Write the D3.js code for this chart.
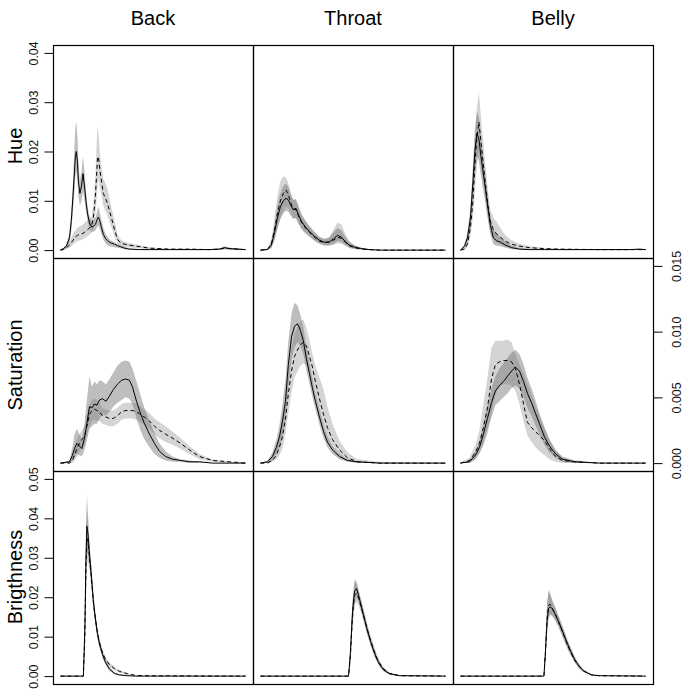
<!DOCTYPE html>
<html>
<head>
<meta charset="utf-8">
<script src="https://cdn.jsdelivr.net/npm/d3@7"></script>
<style>
  html, body { margin: 0; padding: 0; background: #fff; }
  svg { display: block; font-family: "Liberation Sans", Arial, Helvetica, sans-serif; }
</style>
</head>
<body>
<svg id="chart" width="685" height="693"></svg>
<script>
// ---------------- DATA ----------------
const columns = ["Back", "Throat", "Belly"];
const rows = ["Hue", "Saturation", "Brigthness"];
const rowMax = [0.04, 0.015, 0.05];
const hueTicks = [0, 0.01, 0.02, 0.03, 0.04];
const hueTickLabels = ["0.00", "0.01", "0.02", "0.03", "0.04"];
const satTicks = [0, 0.005, 0.010, 0.015];
const satTickLabels = ["0.000", "0.005", "0.010", "0.015"];
const briTicks = [0, 0.01, 0.02, 0.03, 0.04, 0.05];
const briTickLabels = ["0.00", "0.01", "0.02", "0.03", "0.04", "0.05"];

// Back - Hue
const backHueX = [0,1.6,3.2,4.9,5.9,6.8,7.6,8.1,8.6,9.2,9.7,10.5,11.4,12.2,13.0,13.8,14.6,15.7,16.8,17.8,18.9,19.5,20.0,20.5,21.4,22.2,23.2,24.3,25.4,26.5,27.6,29.2,30.8,32.4,34.6,37.3,42.7,48.1,58.9,69.7,80.5,86.0,88.6,91.4,100];
const backHueSolid = [0,0.0003,0.0008,0.0025,0.006,0.011,0.016,0.019,0.020,0.018,0.014,0.0115,0.013,0.0155,0.013,0.010,0.0075,0.0055,0.0047,0.0048,0.0052,0.0058,0.0064,0.0067,0.0058,0.0045,0.0032,0.0024,0.0019,0.0016,0.0014,0.0012,0.0009,0.0007,0.0004,0.0002,0.0001,0.0001,0.0001,0.0001,0.0001,0.0002,0.0005,0.0003,0.0001];
const backHueSolidHi = [0,0.0005,0.0012,0.0035,0.008,0.014,0.021,0.025,0.026,0.023,0.018,0.014,0.016,0.019,0.016,0.012,0.009,0.0068,0.006,0.006,0.0066,0.0074,0.0082,0.0088,0.0075,0.006,0.0045,0.0034,0.0027,0.0022,0.0019,0.0016,0.0013,0.001,0.0007,0.0004,0.0002,0.0002,0.0002,0.0002,0.0002,0.0004,0.0008,0.0005,0.0002];
const backHueSolidLo = [0,0.0001,0.0004,0.0015,0.004,0.008,0.012,0.015,0.016,0.014,0.011,0.009,0.010,0.012,0.010,0.008,0.006,0.0043,0.0036,0.0037,0.004,0.0044,0.0048,0.005,0.0042,0.0032,0.0021,0.0014,0.001,0.0008,0.0007,0.0006,0.0005,0.0004,0.0002,0.0001,0,0,0,0,0,0.0001,0.0002,0.0001,0];
const backHueDash = [0,0.0001,0.0005,0.001,0.0015,0.002,0.0025,0.0027,0.0028,0.003,0.0031,0.0032,0.0033,0.0034,0.0036,0.0038,0.0041,0.0045,0.005,0.0065,0.011,0.015,0.0185,0.019,0.016,0.014,0.0115,0.0105,0.0095,0.008,0.0065,0.0042,0.0022,0.0015,0.0012,0.001,0.0007,0.0004,0.0002,0.0002,0.0001,0.0002,0.0004,0.0003,0.0001];
const backHueDashHi = [0,0.0003,0.001,0.0018,0.0025,0.0032,0.0038,0.004,0.0042,0.0045,0.0047,0.0048,0.005,0.0052,0.0055,0.0058,0.006,0.0063,0.0068,0.009,0.015,0.021,0.025,0.024,0.0195,0.017,0.0145,0.0135,0.0125,0.0105,0.0085,0.006,0.0032,0.0022,0.0017,0.0014,0.001,0.0006,0.0003,0.0003,0.0002,0.0003,0.0006,0.0005,0.0002];
const backHueDashLo = [0,0,0.0002,0.0005,0.0008,0.0011,0.0014,0.0016,0.0017,0.0018,0.0019,0.002,0.0021,0.0022,0.0024,0.0026,0.0028,0.0031,0.0035,0.0045,0.0075,0.010,0.013,0.0145,0.0125,0.011,0.009,0.008,0.007,0.0058,0.0046,0.0028,0.0013,0.0009,0.0007,0.0006,0.0004,0.0002,0.0001,0.0001,0,0.0001,0.0002,0.0001,0];

// Throat - Hue
const throatHueX = [0,3.8,5.9,7.6,9.2,10.8,12.4,13.8,15.1,16.5,17.8,19.2,20.5,22.2,24.3,26.5,29.2,31.9,34.6,37.3,39.5,41.6,43.8,45.9,48.1,50.8,54.6,58.9,64.3,100];
const throatHueSolid = [0,0.0001,0.001,0.0035,0.0065,0.0088,0.010,0.0105,0.0102,0.009,0.0082,0.0085,0.0072,0.0058,0.0047,0.0038,0.0028,0.002,0.0016,0.0017,0.0023,0.003,0.0026,0.0017,0.001,0.0006,0.0003,0.0001,0,0];
const throatHueSolidHi = [0,0.0003,0.0018,0.005,0.009,0.0115,0.013,0.0135,0.0128,0.0112,0.0102,0.0104,0.009,0.0073,0.006,0.0049,0.0037,0.0027,0.0023,0.0026,0.0036,0.0045,0.004,0.0026,0.0016,0.001,0.0005,0.0002,0,0];
const throatHueSolidLo = [0,0,0.0004,0.002,0.0043,0.0063,0.0075,0.008,0.0078,0.0069,0.0063,0.0065,0.0055,0.0044,0.0035,0.0028,0.002,0.0014,0.001,0.001,0.0013,0.0018,0.0016,0.001,0.0005,0.0003,0.0001,0,0,0];
const throatHueDash = [0,0.0001,0.0012,0.004,0.0075,0.010,0.0115,0.0122,0.0112,0.0095,0.0083,0.0082,0.007,0.0056,0.0045,0.0036,0.0026,0.0018,0.0015,0.0016,0.002,0.0026,0.0024,0.0016,0.0009,0.0005,0.0002,0.0001,0,0];
const throatHueDashHi = [0,0.0003,0.0022,0.0065,0.011,0.014,0.015,0.0148,0.0135,0.0115,0.0102,0.0101,0.0088,0.0071,0.0058,0.0047,0.0035,0.0026,0.0022,0.0026,0.0042,0.0056,0.0052,0.0032,0.0018,0.001,0.0005,0.0002,0,0];
const throatHueDashLo = [0,0,0.0005,0.0022,0.0045,0.0065,0.008,0.0088,0.0085,0.0075,0.0065,0.0064,0.0054,0.0042,0.0033,0.0026,0.0018,0.0012,0.0009,0.0009,0.0011,0.0014,0.0013,0.0009,0.0004,0.0002,0.0001,0,0,0];

// Belly - Hue
const bellyHueX = [0,2.2,3.8,5.4,6.8,7.8,8.9,10.0,11.1,12.2,13.5,14.9,16.2,17.8,19.5,21.6,24.3,27.6,31.9,37.3,45.4,53.5,75.1,91.4,96.8,100];
const bellyHueSolid = [0,0.0008,0.0025,0.0065,0.014,0.020,0.0237,0.0225,0.019,0.016,0.0125,0.0085,0.005,0.0025,0.0019,0.0016,0.001,0.0005,0.0002,0.0001,0.0001,0.0001,0.0001,0.0001,0.0002,0.0001];
const bellyHueSolidHi = [0,0.0012,0.0035,0.0085,0.0175,0.0245,0.028,0.027,0.023,0.019,0.015,0.0105,0.0068,0.0042,0.0033,0.0026,0.0017,0.0009,0.0004,0.0002,0.0002,0.0002,0.0002,0.0002,0.0003,0.0002];
const bellyHueSolidLo = [0,0.0004,0.0015,0.0045,0.0105,0.0155,0.019,0.018,0.015,0.0125,0.0095,0.006,0.0032,0.0012,0.0009,0.0008,0.0005,0.0002,0.0001,0,0,0,0,0,0.0001,0];
const bellyHueDash = [0,0.0002,0.0012,0.0045,0.010,0.017,0.023,0.026,0.022,0.018,0.0135,0.009,0.0058,0.0042,0.0033,0.0026,0.0018,0.0012,0.0008,0.0005,0.0003,0.0002,0.0001,0.0001,0.0001,0.0001];
const bellyHueDashHi = [0,0.0005,0.002,0.0065,0.0135,0.0225,0.029,0.032,0.027,0.0225,0.017,0.012,0.0082,0.0065,0.0058,0.0045,0.003,0.002,0.0013,0.0008,0.0005,0.0003,0.0002,0.0002,0.0002,0.0002];
const bellyHueDashLo = [0,0,0.0006,0.0028,0.0068,0.012,0.017,0.02,0.017,0.0138,0.010,0.0062,0.0035,0.0022,0.0016,0.0012,0.0008,0.0005,0.0003,0.0002,0.0001,0,0,0,0,0];

// Back - Saturation
const backSatX = [0,4.9,6.5,7.6,8.9,10.3,11.6,13.0,14.3,15.7,17.0,18.4,19.7,21.1,22.7,24.6,26.5,28.6,30.8,33.0,35.1,37.3,38.9,41.1,43.2,45.4,48.1,50.8,53.5,56.8,60.5,64.9,69.7,75.1,82.2,91.4,100];
const backSatSolid = [0,0.0001,0.0006,0.0011,0.0015,0.0013,0.0011,0.0019,0.003,0.0043,0.0042,0.0045,0.0044,0.0048,0.0049,0.0047,0.0051,0.0056,0.006,0.0063,0.0064,0.0063,0.0058,0.0047,0.0038,0.003,0.0022,0.0015,0.0009,0.0005,0.0003,0.0002,0.0001,0.0001,0,0,0];
const backSatSolidHi = [0,0.0002,0.0012,0.0022,0.0026,0.0022,0.0018,0.003,0.0048,0.0066,0.0058,0.0062,0.006,0.0063,0.0062,0.006,0.0064,0.0069,0.0074,0.0077,0.0078,0.0077,0.0072,0.0062,0.0052,0.0042,0.0032,0.0023,0.0015,0.0009,0.0005,0.0003,0.0002,0.0001,0,0,0];
const backSatSolidLo = [0,0,0.0002,0.0004,0.0007,0.0006,0.0005,0.001,0.0018,0.0026,0.0028,0.003,0.003,0.0034,0.0037,0.0036,0.0039,0.0043,0.0046,0.0048,0.005,0.0049,0.0045,0.0034,0.0025,0.0018,0.0012,0.0007,0.0004,0.0002,0.0001,0.0001,0,0,0,0,0];
const backSatDash = [0,0,0.0002,0.0006,0.0011,0.0015,0.0018,0.002,0.0028,0.0037,0.004,0.0041,0.004,0.0039,0.0036,0.0035,0.0034,0.0034,0.0036,0.0039,0.004,0.004,0.004,0.0039,0.0037,0.0035,0.0032,0.0028,0.0025,0.0022,0.0019,0.0015,0.001,0.0005,0.0002,0.0001,0];
const backSatDashHi = [0,0.0001,0.0006,0.0012,0.0018,0.0022,0.0025,0.0028,0.0036,0.0045,0.0048,0.0049,0.0048,0.0046,0.0042,0.0041,0.004,0.004,0.0042,0.0045,0.0046,0.0046,0.0046,0.0045,0.0043,0.0041,0.0038,0.0034,0.0031,0.0028,0.0024,0.0019,0.0013,0.0007,0.0003,0.0001,0];
const backSatDashLo = [0,0,0,0.0002,0.0005,0.0009,0.0012,0.0013,0.002,0.0029,0.0032,0.0033,0.0032,0.0032,0.003,0.0029,0.0028,0.0028,0.003,0.0033,0.0034,0.0034,0.0034,0.0033,0.0031,0.0029,0.0026,0.0022,0.0019,0.0016,0.0014,0.0011,0.0007,0.0003,0.0001,0,0];

// Throat - Saturation
const throatSatX = [0,3.8,6.5,8.6,10.3,11.9,13.5,15.1,16.8,18.4,20.0,21.6,23.2,24.9,26.5,28.1,29.7,31.9,34.1,36.2,38.9,42.7,47.0,52.4,64.3,100];
const throatSatSolid = [0,0.0001,0.0005,0.0012,0.002,0.0032,0.0047,0.0075,0.0096,0.0104,0.0106,0.0101,0.0093,0.0079,0.0068,0.0057,0.0047,0.0035,0.0024,0.0016,0.001,0.0005,0.0002,0.0001,0,0];
const throatSatSolidHi = [0,0.0002,0.0008,0.0018,0.0029,0.0045,0.0063,0.0093,0.0114,0.0122,0.012,0.0113,0.0103,0.0088,0.0076,0.0064,0.0053,0.0041,0.0029,0.002,0.0013,0.0007,0.0003,0.0001,0,0];
const throatSatSolidLo = [0,0,0.0002,0.0007,0.0012,0.0021,0.0033,0.0058,0.0079,0.0088,0.0092,0.0089,0.0083,0.007,0.006,0.005,0.0041,0.0029,0.0019,0.0012,0.0007,0.0003,0.0001,0,0,0];
const throatSatDash = [0,0,0.0002,0.0006,0.0012,0.002,0.0033,0.0053,0.007,0.0081,0.0086,0.009,0.0092,0.0089,0.0081,0.0073,0.0062,0.0049,0.0037,0.0027,0.0018,0.001,0.0004,0.0001,0,0];
const throatSatDashHi = [0,0.0001,0.0005,0.0012,0.002,0.0032,0.0048,0.007,0.0088,0.0098,0.0103,0.0108,0.0109,0.0103,0.0093,0.0083,0.0074,0.0065,0.0056,0.0043,0.003,0.0017,0.0008,0.0003,0.0001,0];
const throatSatDashLo = [0,0,0.0001,0.0003,0.0006,0.0011,0.0022,0.0038,0.0054,0.0065,0.007,0.0074,0.0076,0.0074,0.0068,0.006,0.005,0.0037,0.0026,0.0018,0.0011,0.0005,0.0002,0,0,0];

// Belly - Saturation
const bellySatX = [0,4.9,8.1,10.3,12.4,14.6,16.8,18.9,21.1,23.2,25.4,27.6,29.7,31.9,34.1,36.2,38.4,40.5,42.7,45.4,48.1,51.4,55.1,61.6,75.1,100];
const bellySatSolid = [0,0.0001,0.0006,0.0012,0.0022,0.0034,0.0046,0.0055,0.0059,0.0062,0.0066,0.007,0.0073,0.007,0.0062,0.0053,0.0046,0.0038,0.003,0.002,0.0013,0.0007,0.0003,0.0001,0,0];
const bellySatSolidHi = [0,0.0002,0.0009,0.0017,0.0029,0.0043,0.0057,0.0066,0.0072,0.0076,0.008,0.0084,0.0086,0.0083,0.0075,0.0065,0.0057,0.0048,0.0038,0.0027,0.0018,0.001,0.0005,0.0002,0,0];
const bellySatSolidLo = [0,0,0.0003,0.0008,0.0015,0.0025,0.0035,0.0044,0.0047,0.005,0.0053,0.0057,0.0059,0.0057,0.005,0.0042,0.0036,0.0029,0.0022,0.0014,0.0008,0.0004,0.0001,0,0,0];
const bellySatDash = [0,0.0002,0.0008,0.0015,0.0027,0.0042,0.0064,0.0075,0.0077,0.0078,0.0078,0.0077,0.0072,0.006,0.0045,0.0031,0.0027,0.0024,0.0021,0.0017,0.0011,0.0005,0.0002,0.0001,0,0];
const bellySatDashHi = [0,0.0004,0.0014,0.0025,0.0045,0.0065,0.0088,0.0093,0.0093,0.0093,0.0094,0.0092,0.0083,0.0075,0.0068,0.006,0.0052,0.0044,0.0036,0.0027,0.0018,0.001,0.0004,0.0002,0,0];
const bellySatDashLo = [0,0,0.0003,0.0007,0.0013,0.0022,0.0038,0.0052,0.0058,0.006,0.006,0.0059,0.0055,0.0045,0.0032,0.0021,0.0016,0.0012,0.0009,0.0006,0.0003,0.0001,0,0,0,0];

// Back - Brightness
const backBriX = [0,12.4,13.2,13.8,14.3,14.9,15.7,16.8,17.8,18.9,20.0,21.1,22.7,24.3,26.5,29.2,31.9,36.2,40.5,45.4,100];
const backBriSolid = [0,0,0.012,0.030,0.038,0.036,0.031,0.025,0.019,0.0145,0.0108,0.0082,0.0055,0.0035,0.0018,0.0007,0.0003,0.0001,0,0,0];
const backBriSolidHi = [0,0,0.016,0.038,0.046,0.041,0.034,0.0275,0.021,0.016,0.012,0.0092,0.0063,0.0042,0.0023,0.001,0.0005,0.0002,0,0,0];
const backBriSolidLo = [0,0,0.008,0.024,0.031,0.031,0.028,0.0225,0.017,0.013,0.0095,0.0072,0.0047,0.0029,0.0013,0.0005,0.0002,0,0,0,0];
const backBriDash = [0,0,0.010,0.027,0.035,0.034,0.030,0.0245,0.0188,0.0145,0.011,0.0085,0.006,0.0043,0.0029,0.0019,0.0012,0.0006,0.0002,0.0001,0];
const backBriDashHi = [0,0,0.014,0.034,0.042,0.039,0.033,0.027,0.0205,0.016,0.0122,0.0095,0.0068,0.0049,0.0034,0.0023,0.0015,0.0008,0.0003,0.0001,0];
const backBriDashLo = [0,0,0.007,0.021,0.029,0.029,0.027,0.022,0.017,0.013,0.0098,0.0075,0.0052,0.0037,0.0024,0.0015,0.0009,0.0004,0.0001,0,0];

// Throat - Brightness
const throatBriX = [0,47.6,48.6,49.7,50.8,51.9,53.0,54.6,56.2,57.8,59.5,61.1,62.7,64.3,66.5,69.7,75.1,100];
const throatBriSolid = [0,0,0.006,0.016,0.0215,0.0222,0.0205,0.0175,0.0145,0.0115,0.0088,0.0065,0.0045,0.003,0.0016,0.0006,0.0001,0];
const throatBriSolidHi = [0,0,0.008,0.019,0.0245,0.024,0.022,0.019,0.0158,0.0127,0.0098,0.0074,0.0053,0.0036,0.002,0.0008,0.0002,0];
const throatBriSolidLo = [0,0,0.004,0.013,0.0185,0.0202,0.019,0.0162,0.0133,0.0104,0.0078,0.0057,0.0038,0.0024,0.0012,0.0004,0,0];
const throatBriDash = [0,0,0.005,0.015,0.0205,0.021,0.0198,0.0172,0.0145,0.0117,0.009,0.0068,0.0048,0.0033,0.0018,0.0007,0.0001,0];
const throatBriDashHi = [0,0,0.007,0.018,0.0235,0.0235,0.0215,0.0188,0.016,0.0131,0.0103,0.008,0.0058,0.004,0.0023,0.001,0.0002,0];
const throatBriDashLo = [0,0,0.003,0.012,0.0175,0.0188,0.018,0.0157,0.013,0.0103,0.0078,0.0057,0.004,0.0026,0.0013,0.0004,0,0];

// Belly - Brightness
const bellyBriX = [0,45.1,45.9,46.8,47.6,48.6,49.7,51.4,53.0,54.6,56.2,57.8,59.5,61.6,63.8,66.5,70.8,75.1,100];
const bellyBriSolid = [0,0,0.006,0.014,0.0172,0.0176,0.017,0.0155,0.0138,0.012,0.0101,0.0082,0.0064,0.0043,0.0027,0.0013,0.0003,0.0001,0];
const bellyBriSolidHi = [0,0,0.008,0.018,0.0215,0.0205,0.019,0.0172,0.0153,0.0134,0.0114,0.0093,0.0074,0.0051,0.0033,0.0017,0.0005,0.0001,0];
const bellyBriSolidLo = [0,0,0.004,0.011,0.0145,0.0155,0.0152,0.014,0.0124,0.0107,0.0089,0.0071,0.0055,0.0036,0.0021,0.001,0.0002,0,0];
const bellyBriDash = [0,0,0.006,0.0145,0.018,0.0182,0.0172,0.0156,0.0138,0.0119,0.0099,0.0079,0.0061,0.0041,0.0026,0.0013,0.0003,0.0001,0];
const bellyBriDashHi = [0,0,0.008,0.0185,0.022,0.021,0.0192,0.0172,0.0152,0.0132,0.0111,0.009,0.007,0.0048,0.0031,0.0016,0.0004,0.0001,0];
const bellyBriDashLo = [0,0,0.004,0.0115,0.015,0.0158,0.0154,0.0141,0.0125,0.0107,0.0088,0.0069,0.0053,0.0035,0.0021,0.001,0.0002,0,0];

// ---------------- ASSEMBLY ----------------
const panels = [
  {r:0,c:0,x:backHueX,m1:backHueSolid,hi1:backHueSolidHi,lo1:backHueSolidLo,m2:backHueDash,hi2:backHueDashHi,lo2:backHueDashLo},
  {r:0,c:1,x:throatHueX,m1:throatHueSolid,hi1:throatHueSolidHi,lo1:throatHueSolidLo,m2:throatHueDash,hi2:throatHueDashHi,lo2:throatHueDashLo},
  {r:0,c:2,x:bellyHueX,m1:bellyHueSolid,hi1:bellyHueSolidHi,lo1:bellyHueSolidLo,m2:bellyHueDash,hi2:bellyHueDashHi,lo2:bellyHueDashLo},
  {r:1,c:0,x:backSatX,m1:backSatSolid,hi1:backSatSolidHi,lo1:backSatSolidLo,m2:backSatDash,hi2:backSatDashHi,lo2:backSatDashLo},
  {r:1,c:1,x:throatSatX,m1:throatSatSolid,hi1:throatSatSolidHi,lo1:throatSatSolidLo,m2:throatSatDash,hi2:throatSatDashHi,lo2:throatSatDashLo},
  {r:1,c:2,x:bellySatX,m1:bellySatSolid,hi1:bellySatSolidHi,lo1:bellySatSolidLo,m2:bellySatDash,hi2:bellySatDashHi,lo2:bellySatDashLo},
  {r:2,c:0,x:backBriX,m1:backBriSolid,hi1:backBriSolidHi,lo1:backBriSolidLo,m2:backBriDash,hi2:backBriDashHi,lo2:backBriDashLo},
  {r:2,c:1,x:throatBriX,m1:throatBriSolid,hi1:throatBriSolidHi,lo1:throatBriSolidLo,m2:throatBriDash,hi2:throatBriDashHi,lo2:throatBriDashLo},
  {r:2,c:2,x:bellyBriX,m1:bellyBriSolid,hi1:bellyBriSolidHi,lo1:bellyBriSolidLo,m2:bellyBriDash,hi2:bellyBriDashHi,lo2:bellyBriDashLo}
];

// ---------------- LAYOUT ----------------
const svg = d3.select("#chart");
svg.append("rect").attr("width", 685).attr("height", 693).attr("fill", "#fff");

const gridLeft = 53, gridTop = 45, cellW = 200, cellH = 213;
const pad = 0.04;

function xScaleFor(c) {
  const l = gridLeft + c * cellW;
  return d3.scaleLinear().domain([0 - 100 * pad, 100 + 100 * pad]).range([l, l + cellW]);
}
function yScaleFor(r) {
  const t = gridTop + r * cellH;
  const m = rowMax[r];
  return d3.scaleLinear().domain([-m * pad, m * (1 + pad)]).range([t + cellH, t]);
}

panels.forEach(p => {
  const xs = xScaleFor(p.c), ys = yScaleFor(p.r);
  const g = svg.append("g");
  const idx = d3.range(p.x.length);
  const area = (lo, hi) => d3.area().x(i => xs(p.x[i])).y0(i => ys(lo[i])).y1(i => ys(hi[i]));
  const line = (m) => d3.line().x(i => xs(p.x[i])).y(i => ys(m[i]));
  g.append("path").attr("d", area(p.lo2, p.hi2)(idx)).attr("fill", "#d4d4d4").attr("stroke", "none");
  g.append("path").attr("d", area(p.lo1, p.hi1)(idx)).attr("fill", "rgb(110,110,110)").attr("fill-opacity", 0.45).attr("stroke", "none");
  g.append("path").attr("d", line(p.m2)(idx)).attr("fill", "none").attr("stroke", "#000").attr("stroke-width", 1).attr("stroke-dasharray", "4,3");
  g.append("path").attr("d", line(p.m1)(idx)).attr("fill", "none").attr("stroke", "#000").attr("stroke-width", 1);
});

// panel boxes
for (let r = 0; r < 3; r++) {
  for (let c = 0; c < 3; c++) {
    svg.append("rect")
      .attr("x", gridLeft + c * cellW + 0.5).attr("y", gridTop + r * cellH + 0.5)
      .attr("width", cellW).attr("height", cellH)
      .attr("fill", "none").attr("stroke", "#000").attr("stroke-width", 1.2);
  }
}

// axes
function drawAxis(r, side, ticks, labels) {
  const ys = yScaleFor(r);
  const axisX = side === "left" ? gridLeft + 0.5 : gridLeft + 3 * cellW + 0.5;
  const ax = side === "left" ? d3.axisLeft(ys) : d3.axisRight(ys);
  ax.tickValues(ticks).tickSize(9).tickFormat((d, i) => labels[i]);
  const g = svg.append("g").attr("transform", `translate(${axisX},0)`).call(ax);
  g.select(".domain").attr("stroke", "#000").attr("d", "M0," + ys(ticks[0]) + "V" + ys(ticks[ticks.length - 1]));
  g.selectAll(".tick line").attr("stroke", "#000").attr("stroke-width", 1);
  const baseX = side === "left" ? -16 : 27;
  g.selectAll(".tick text")
    .attr("x", null).attr("dy", null)
    .attr("transform", `translate(${baseX},0) rotate(-90)`)
    .attr("text-anchor", "middle")
    .attr("font-size", "12.5px")
    .attr("font-family", "'Liberation Sans', Arial, sans-serif")
    .attr("fill", "#111");
}
drawAxis(0, "left", hueTicks, hueTickLabels);
drawAxis(1, "right", satTicks, satTickLabels);
drawAxis(2, "left", briTicks, briTickLabels);

// column titles
columns.forEach((name, c) => {
  svg.append("text")
    .attr("x", gridLeft + c * cellW + cellW / 2).attr("y", 25)
    .attr("text-anchor", "middle").attr("font-size", "20px").attr("fill", "#000")
    .text(name);
});
// row titles
const rowCenters = [146, 365, 577];
rows.forEach((name, r) => {
  svg.append("text")
    .attr("transform", `translate(22,${rowCenters[r]}) rotate(-90)`)
    .attr("text-anchor", "middle").attr("font-size", "20px").attr("fill", "#000")
    .text(name);
});
</script>
</body>
</html>
